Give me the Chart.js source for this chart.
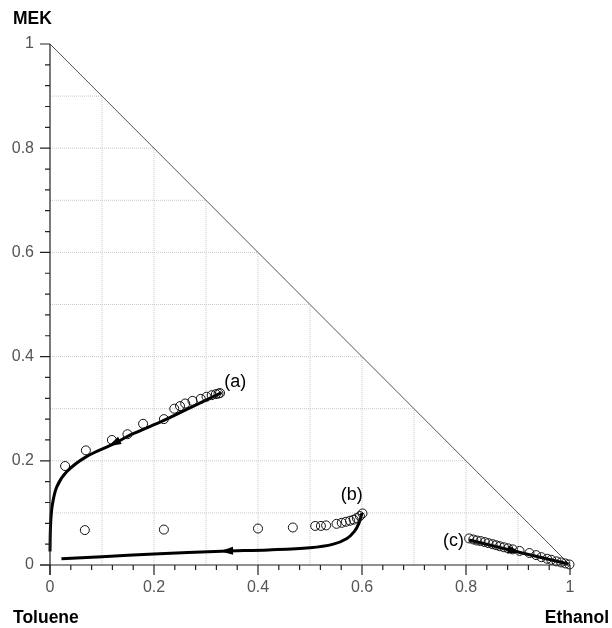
<!DOCTYPE html>
<html>
<head>
<meta charset="utf-8">
<script src="https://cdn.jsdelivr.net/npm/chart.js@4"></script>
<style>
html,body{margin:0;padding:0;background:#fff;}
canvas{display:block;}
</style>
</head>
<body>
<canvas id="c" width="612" height="628"></canvas>
<script>
// ---- data ----
const majorTickValues = [0, 0.2, 0.4, 0.6, 0.8, 1];
const tickLabels = ['0', '0.2', '0.4', '0.6', '0.8', '1'];
const minorTickValues = [0.04,0.08,0.12,0.16,0.24,0.28,0.32,0.36,0.44,0.48,0.52,0.56,0.64,0.68,0.72,0.76,0.84,0.88,0.92,0.96];
const gridValues = [0.1,0.2,0.3,0.4,0.5,0.6,0.7,0.8,0.9];

// experimental points (Ethanol, MEK)
const pointsA_x = [0.029,0.069,0.119,0.149,0.179,0.219,0.239,0.250,0.260,0.274,0.290,0.301,0.311,0.319,0.324,0.327];
const pointsA_y = [0.190,0.220,0.240,0.251,0.271,0.280,0.300,0.305,0.310,0.315,0.319,0.323,0.326,0.328,0.329,0.330];
const pointsB_x = [0.067,0.219,0.400,0.467,0.510,0.521,0.531,0.551,0.561,0.569,0.577,0.584,0.590,0.596,0.601];
const pointsB_y = [0.067,0.068,0.070,0.072,0.075,0.075,0.076,0.079,0.081,0.083,0.085,0.087,0.090,0.094,0.099];
const pointsC_x = [0.806,0.814,0.821,0.828,0.836,0.843,0.851,0.858,0.865,0.873,0.881,0.890,0.903,0.922,0.935,0.945,0.956,0.964,0.974,0.983,0.991,0.999];
const pointsC_y = [0.051,0.049,0.047,0.046,0.044,0.042,0.040,0.038,0.036,0.034,0.032,0.030,0.027,0.023,0.019,0.015,0.012,0.010,0.007,0.005,0.003,0.001];

// simulated trajectories
const curveA_x = [0.330,0.270,0.218,0.160,0.119,0.070,0.032,0.013,0.004,0.001,0.000];
const curveA_y = [0.331,0.302,0.277,0.252,0.231,0.208,0.179,0.150,0.112,0.074,0.026];
const curveB_x = [0.600,0.594,0.585,0.571,0.545,0.500,0.420,0.330,0.200,0.100,0.022];
const curveB_y = [0.100,0.080,0.064,0.051,0.040,0.033,0.029,0.0265,0.021,0.016,0.012];
const curveC_x = [0.806,0.900,0.997];
const curveC_y = [0.048,0.025,0.002];

// arrows: tip and a point behind it on the curve
const arrowTip_x = [0.112,0.327,0.905];
const arrowTip_y = [0.228,0.0265,0.024];
const arrowTail_x = [0.160,0.420,0.850];
const arrowTail_y = [0.252,0.029,0.037];

// curve labels
const curveLabels = ['(a)','(b)','(c)'];
const curveLabel_x = [0.335,0.559,0.756];
const curveLabel_y = [0.352,0.134,0.046];

const axisTitles = {top:'MEK', left:'Toluene', right:'Ethanol'};

// ---- build ----
const zip = (xs, ys) => xs.map((x, i) => ({x, y: ys[i]}));
const datasets = [];

gridValues.forEach(v => {
  datasets.push({data: [{x: v, y: 0}, {x: v, y: 1 - v}], showLine: true, borderColor: '#c8c8c8', borderWidth: 1, borderDash: [1, 1], pointRadius: 0, order: 5});
  datasets.push({data: [{x: 0, y: v}, {x: 1 - v, y: v}], showLine: true, borderColor: '#c8c8c8', borderWidth: 1, borderDash: [1, 1], pointRadius: 0, order: 5});
});
datasets.push({data: [{x: 0, y: 1}, {x: 1, y: 0}], showLine: true, borderColor: '#555', borderWidth: 1, pointRadius: 0, order: 4});

[[curveA_x, curveA_y], [curveB_x, curveB_y], [curveC_x, curveC_y]].forEach(([xs, ys]) => {
  datasets.push({data: zip(xs, ys), showLine: true, borderColor: '#000', borderWidth: 3, tension: 0.35, pointRadius: 0, order: 2, clip: false, borderCapStyle: 'butt'});
});
[[pointsA_x, pointsA_y], [pointsB_x, pointsB_y], [pointsC_x, pointsC_y]].forEach(([xs, ys]) => {
  datasets.push({data: zip(xs, ys), showLine: false, pointRadius: 4.5, pointBorderWidth: 1, pointBorderColor: '#111', pointBackgroundColor: 'rgba(255,255,255,0)', order: 1, clip: false});
});

const FONT = '"Liberation Sans", Arial, Helvetica, sans-serif';

const decor = {
  id: 'decor',
  afterDatasetsDraw(chart) {
    const ctx = chart.ctx;
    const xs = chart.scales.x, ys = chart.scales.y;
    const x0 = xs.getPixelForValue(0), y0 = ys.getPixelForValue(0);
    ctx.save();
    // axes lines
    ctx.strokeStyle = '#222';
    ctx.lineWidth = 1.2;
    ctx.beginPath();
    ctx.moveTo(x0, ys.getPixelForValue(1));
    ctx.lineTo(x0, y0 + 10);
    ctx.moveTo(x0 - 10, y0);
    ctx.lineTo(xs.getPixelForValue(1), y0);
    ctx.stroke();
    // ticks
    ctx.beginPath();
    majorTickValues.forEach(v => {
      const px = xs.getPixelForValue(v), py = ys.getPixelForValue(v);
      ctx.moveTo(px, y0); ctx.lineTo(px, y0 + 10);
      ctx.moveTo(x0, py); ctx.lineTo(x0 - 10, py);
    });
    minorTickValues.forEach(v => {
      const px = xs.getPixelForValue(v), py = ys.getPixelForValue(v);
      ctx.moveTo(px, y0); ctx.lineTo(px, y0 + 5);
      ctx.moveTo(x0, py); ctx.lineTo(x0 - 5, py);
    });
    ctx.stroke();
    // arrowheads
    ctx.fillStyle = '#000';
    arrowTip_x.forEach((tx, i) => {
      const px = xs.getPixelForValue(tx), py = ys.getPixelForValue(arrowTip_y[i]);
      const qx = xs.getPixelForValue(arrowTail_x[i]), qy = ys.getPixelForValue(arrowTail_y[i]);
      const a = Math.atan2(py - qy, px - qx);
      const L = 13, W = 4;
      ctx.beginPath();
      ctx.moveTo(px, py);
      ctx.lineTo(px - L * Math.cos(a) - W * Math.sin(a), py - L * Math.sin(a) + W * Math.cos(a));
      ctx.lineTo(px - L * Math.cos(a) + W * Math.sin(a), py - L * Math.sin(a) - W * Math.cos(a));
      ctx.closePath();
      ctx.fill();
    });
    // curve labels
    ctx.fillStyle = '#000';
    ctx.font = '18px ' + FONT;
    ctx.textBaseline = 'middle';
    ctx.textAlign = 'left';
    curveLabels.forEach((t, i) => {
      ctx.fillText(t, xs.getPixelForValue(curveLabel_x[i]), ys.getPixelForValue(curveLabel_y[i]));
    });
    // axis titles
    ctx.font = 'bold 17.5px ' + FONT;
    ctx.textBaseline = 'alphabetic';
    ctx.textAlign = 'left';
    ctx.fillText(axisTitles.top, 13, 24);
    ctx.fillText(axisTitles.left, 13, 623);
    ctx.textAlign = 'right';
    ctx.fillText(axisTitles.right, 609, 623);
    ctx.restore();
  }
};

const tickCfg = (pad) => ({
  padding: pad,
  color: '#555',
  font: {family: FONT, size: 16},
  callback: (v, i) => tickLabels[i]
});

new Chart(document.getElementById('c'), {
  type: 'scatter',
  data: {datasets},
  options: {
    responsive: false,
    animation: false,
    events: [],
    layout: {padding: {left: 0, top: 44, right: 42, bottom: 0}},
    plugins: {legend: {display: false}, tooltip: {enabled: false}},
    scales: {
      x: {
        type: 'linear', min: 0, max: 1,
        afterBuildTicks: s => { s.ticks = majorTickValues.map(v => ({value: v})); },
        afterFit: s => { s.height = 63; },
        grid: {display: false, drawTicks: false}, border: {display: false},
        ticks: Object.assign(tickCfg(13), {maxRotation: 0})
      },
      y: {
        type: 'linear', min: 0, max: 1,
        afterBuildTicks: s => { s.ticks = majorTickValues.map(v => ({value: v})); },
        afterFit: s => { s.width = 50; },
        grid: {display: false, drawTicks: false}, border: {display: false},
        ticks: tickCfg(16)
      }
    }
  },
  plugins: [decor]
});
</script>
</body>
</html>
